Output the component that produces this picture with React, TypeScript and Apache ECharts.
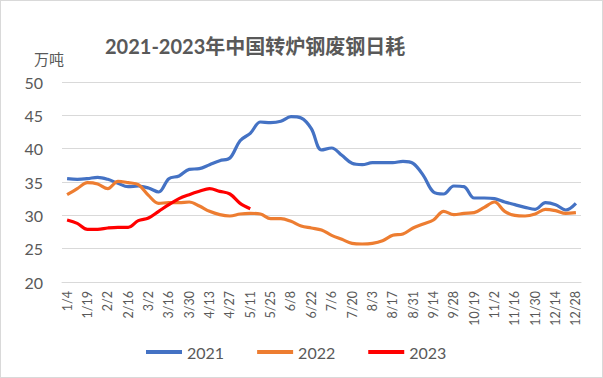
import React, { useEffect, useRef } from "react";
import * as echarts from "echarts";

const categories = [
  "1/4", "1/12", "1/19", "1/26", "2/2", "2/9", "2/16", "2/23", "3/2", "3/9",
  "3/16", "3/23", "3/30", "4/6", "4/13", "4/20", "4/27", "5/4", "5/11", "5/18",
  "5/25", "6/1", "6/8", "6/15", "6/22", "6/29", "7/6", "7/13", "7/20", "7/27",
  "8/3", "8/10", "8/17", "8/24", "8/31", "9/7", "9/14", "9/21", "9/28", "10/12",
  "10/19", "10/26", "11/2", "11/9", "11/16", "11/23", "11/30", "12/7", "12/14", "12/21",
  "12/28",
];

const series2021 = [
  35.5, 35.4, 35.5, 35.7, 35.4, 34.8, 34.3, 34.4, 34.1, 33.5,
  35.5, 35.9, 36.9, 37.0, 37.6, 38.2, 38.6, 41.2, 42.3, 44.0,
  43.9, 44.1, 44.8, 44.6, 43.0, 39.8, 40.1, 39.0, 37.8, 37.6,
  37.9, 37.9, 37.9, 38.1, 37.8, 36.0, 33.5, 33.2, 34.4, 34.3,
  32.6, 32.6, 32.5, 32.0, 31.6, 31.2, 30.9, 31.9, 31.6, 30.8,
  31.8,
];

const series2022 = [
  33.1, 34.0, 34.9, 34.7, 34.0, 35.1, 34.9, 34.6, 33.0, 31.8,
  31.9, 31.9, 32.0, 31.4, 30.6, 30.1, 29.9, 30.2, 30.3, 30.2,
  29.5, 29.5, 29.1, 28.4, 28.1, 27.8, 27.0, 26.4, 25.8, 25.7,
  25.8, 26.2, 27.0, 27.2, 28.1, 28.7, 29.3, 30.6, 30.1, 30.3,
  30.4, 31.2, 32.0, 30.6, 30.0, 29.9, 30.2, 30.9, 30.7, 30.3,
  30.4,
];

const series2023 = [
  29.3, 28.8, 27.9, 27.9, 28.1, 28.2, 28.2, 29.2, 29.6, 30.6,
  31.6, 32.5, 33.1, 33.6, 34.0, 33.6, 33.2, 31.8, 31.0,
];

const yTicks = { min: 20, max: 50, interval: 5 };

const FONT = "Lato, 'Noto Sans CJK SC', sans-serif";
const GREY = "#595959";

export default function App() {
  const ref = useRef<HTMLDivElement>(null);
  useEffect(() => {
    document.body.style.margin = "0";
    if (!ref.current) return;
    const chart = echarts.init(ref.current, null, { renderer: "svg" });
    const mk = (name: string, data: number[], color: string) => ({
      name,
      type: "line",
      data,
      smooth: 0.35,
      symbol: "none",
      lineStyle: { color, width: 3.2 },
      itemStyle: { color },
    });
    chart.setOption({
      animation: false,
      backgroundColor: "#ffffff",
      title: {
        text: "2021-2023年中国转炉钢废钢日耗",
        left: 99,
        top: 30,
        textStyle: { color: GREY, fontSize: 20, fontWeight: "bold", fontFamily: FONT },
      },
      graphic: [
        {
          type: "text",
          left: 33,
          top: 50,
          style: { text: "万吨", fill: GREY, fontSize: 15, fontFamily: FONT },
        },
      ],
      legend: {
        data: ["2021", "2022", "2023"],
        bottom: 12,
        left: 140,
        itemWidth: 36,
        itemHeight: 4,
        itemGap: 33,
        icon: "rect",
        textStyle: { color: GREY, fontSize: 16, fontFamily: FONT },
      },
      grid: { left: 61, right: 21, top: 81, bottom: 95, containLabel: false },
      xAxis: {
        type: "category",
        data: categories,
        boundaryGap: true,
        axisLine: { lineStyle: { color: "#d9d9d9" } },
        axisTick: { show: false },
        axisLabel: {
          interval: 1,
          rotate: 90,
          color: GREY,
          fontSize: 12.5,
          fontFamily: FONT,
          margin: 9,
        },
      },
      yAxis: {
        type: "value",
        min: yTicks.min,
        max: yTicks.max,
        interval: yTicks.interval,
        axisLine: { show: false },
        axisTick: { show: false },
        splitLine: { lineStyle: { color: "#d9d9d9", width: 1 } },
        axisLabel: { color: GREY, fontSize: 16, fontFamily: FONT, margin: 19 },
      },
      series: [
        mk("2021", series2021, "#4472C4"),
        mk("2022", series2022, "#ED7D31"),
        mk("2023", series2023, "#FF0000"),
      ],
    });
    return () => chart.dispose();
  }, []);
  return (
    <div
      ref={ref}
      style={{ width: 603, height: 378, boxSizing: "border-box", border: "1px solid #d9d9d9" }}
    />
  );
}
